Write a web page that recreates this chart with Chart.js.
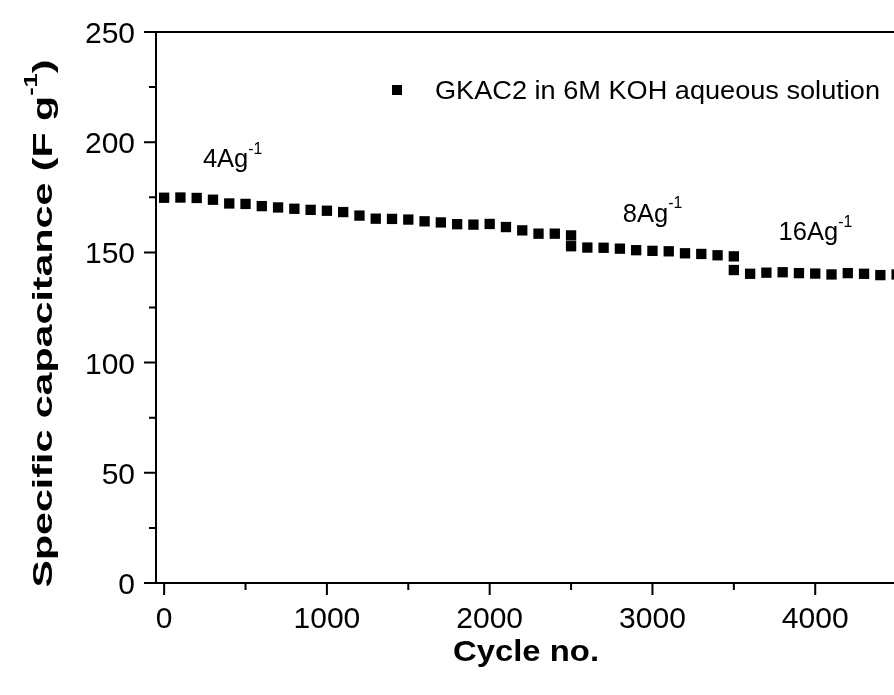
<!DOCTYPE html>
<html>
<head>
<meta charset="utf-8">
<script src="https://cdn.jsdelivr.net/npm/chart.js@4.4.1/dist/chart.umd.min.js"></script>
<style>
  html, body { margin: 0; padding: 0; background: #fff; overflow: hidden; }
  #wrap { width: 990px; height: 695px; }
</style>
</head>
<body>
<div id="wrap"><canvas id="chart" width="990" height="695"></canvas></div>
<script>
// cycle number of each measurement (2500 and 3500 appear twice: current density switch)
const cycles = [
  0, 100, 200, 300, 400, 500, 600, 700, 800, 900,
  1000, 1100, 1200, 1300, 1400, 1500, 1600, 1700, 1800, 1900,
  2000, 2100, 2200, 2300, 2400, 2500,
  2500, 2600, 2700, 2800, 2900, 3000, 3100, 3200, 3300, 3400, 3500,
  3500, 3600, 3700, 3800, 3900, 4000, 4100, 4200, 4300, 4400, 4500
];
const capacitance = [
  174.8, 174.9, 174.7, 173.9, 172.2, 172.0, 171.0, 170.4, 169.8, 169.3,
  168.9, 168.3, 166.7, 165.3, 165.2, 164.9, 164.1, 163.6, 162.8, 162.6,
  162.9, 161.5, 160.0, 158.5, 158.5, 157.7,
  152.8, 152.2, 152.1, 151.7, 151.0, 150.7, 150.5, 149.6, 149.3, 148.7, 148.2,
  142.0, 140.3, 140.8, 141.0, 140.6, 140.4, 140.0, 140.6, 140.3, 139.7, 140.0
];
const xTickValues = [0, 1000, 2000, 3000, 4000, 5000];
const xMinorTicks = [500, 1500, 2500, 3500, 4500];
const yTickValues = [0, 50, 100, 150, 200, 250];
const yMinorTicks = [25, 75, 125, 175, 225];
const seriesLabel = 'GKAC2 in 6M KOH aqueous solution';
const rateLabels = ['4Ag', '8Ag', '16Ag'];

const FONT = '"Liberation Sans", Arial, Helvetica, sans-serif';

// draw text made of normal and superscript parts, stretched along the text
function drawRich(ctx, parts, x, y, size, bold, align, width) {
  ctx.save();
  ctx.translate(x, y);
  const w = bold ? 'bold ' : '';
  let total = 0;
  const widths = parts.map(p => {
    ctx.font = w + (p.sup ? size * 0.62 : size) + 'px ' + FONT;
    const m = ctx.measureText(p.t).width;
    total += m;
    return m;
  });
  const sx = width ? width / total : 1;
  ctx.scale(sx, 1);
  let cur = align === 'center' ? -total / 2 : (align === 'right' ? -total : 0);
  ctx.fillStyle = '#000';
  ctx.textBaseline = 'alphabetic';
  ctx.textAlign = 'left';
  parts.forEach((p, i) => {
    ctx.font = w + (p.sup ? size * 0.62 : size) + 'px ' + FONT;
    ctx.fillText(p.t, cur, p.sup ? -size * 0.52 : 0);
    cur += widths[i];
  });
  ctx.restore();
}

const decorations = {
  id: 'decorations',
  afterDraw(chart) {
    const ctx = chart.ctx;
    const {left, right, top, bottom} = chart.chartArea;
    const xs = chart.scales.x, ys = chart.scales.y;
    ctx.save();
    ctx.strokeStyle = '#000';
    ctx.lineWidth = 2;
    ctx.lineCap = 'butt';
    ctx.beginPath();
    ctx.moveTo(left, top); ctx.lineTo(right, top);
    ctx.moveTo(left, top - 1); ctx.lineTo(left, bottom + 1);
    ctx.moveTo(left - 1, bottom); ctx.lineTo(right, bottom);
    ctx.moveTo(right, top); ctx.lineTo(right, bottom);
    // tick marks, pointing outward
    xTickValues.forEach(v => {
      const px = xs.getPixelForValue(v);
      ctx.moveTo(px, bottom); ctx.lineTo(px, bottom + 12);
    });
    xMinorTicks.forEach(v => {
      const px = xs.getPixelForValue(v);
      ctx.moveTo(px, bottom); ctx.lineTo(px, bottom + 7);
    });
    yTickValues.forEach(v => {
      const py = ys.getPixelForValue(v);
      ctx.moveTo(left, py); ctx.lineTo(left - 12, py);
    });
    yMinorTicks.forEach(v => {
      const py = ys.getPixelForValue(v);
      ctx.moveTo(left, py); ctx.lineTo(left - 7, py);
    });
    ctx.stroke();

    // tick labels
    xTickValues.forEach(v => {
      drawRich(ctx, [{t: String(v)}], xs.getPixelForValue(v), bottom + 45, 30, false, 'center', null);
    });
    yTickValues.forEach(v => {
      drawRich(ctx, [{t: String(v)}], left - 21, ys.getPixelForValue(v) + 11, 30, false, 'right', null);
    });

    // legend
    ctx.fillStyle = '#000';
    ctx.fillRect(392, 85, 10, 10);
    drawRich(ctx, [{t: seriesLabel}], 435, 99, 26, false, 'left', 445);

    // current density labels, anchored in data space
    const anchors = [[238, 188.8], [2818, 164], [3775, 155.7]];
    rateLabels.forEach((txt, i) => {
      const px = xs.getPixelForValue(anchors[i][0]);
      const py = ys.getPixelForValue(anchors[i][1]);
      drawRich(ctx, [{t: txt}, {t: '-1', sup: true}], px, py, 25.5, false, 'left', null);
    });

    // axis titles
    drawRich(ctx, [{t: 'Cycle no.'}], 526, 661, 30, true, 'center', 146);
    ctx.save();
    ctx.translate(52, (top + bottom) / 2 + 16);
    ctx.rotate(-Math.PI / 2);
    drawRich(ctx, [{t: 'Specific capacitance (F g'}, {t: '-1', sup: true}, {t: ')'}], 0, 0, 28.5, true, 'center', 528);
    ctx.restore();
    ctx.restore();
  }
};

new Chart(document.getElementById('chart'), {
  type: 'scatter',
  data: {
    datasets: [{
      label: seriesLabel,
      data: cycles.map((c, i) => ({x: c, y: capacitance[i]})),
      pointStyle: 'rect',
      pointRadius: 7.3,
      pointBackgroundColor: '#000',
      pointBorderColor: '#000',
      pointBorderWidth: 0,
      showLine: false
    }]
  },
  options: {
    responsive: false,
    animation: false,
    devicePixelRatio: 1,
    layout: {padding: {left: 0, top: 32, right: 12, bottom: 0}},
    plugins: {legend: {display: false}, tooltip: {enabled: false}},
    scales: {
      x: {
        type: 'linear',
        min: -50,
        max: 5000,
        grid: {display: false, drawTicks: false},
        border: {display: false},
        afterBuildTicks: s => { s.ticks = xTickValues.map(v => ({value: v})); },
        afterFit: s => { s.height = 112; },
        ticks: {display: false}
      },
      y: {
        min: 0,
        max: 250,
        grid: {display: false, drawTicks: false},
        border: {display: false},
        afterBuildTicks: s => { s.ticks = yTickValues.map(v => ({value: v})); },
        afterFit: s => { s.width = 156; },
        ticks: {display: false}
      }
    }
  },
  plugins: [decorations]
});
</script>
</body>
</html>
